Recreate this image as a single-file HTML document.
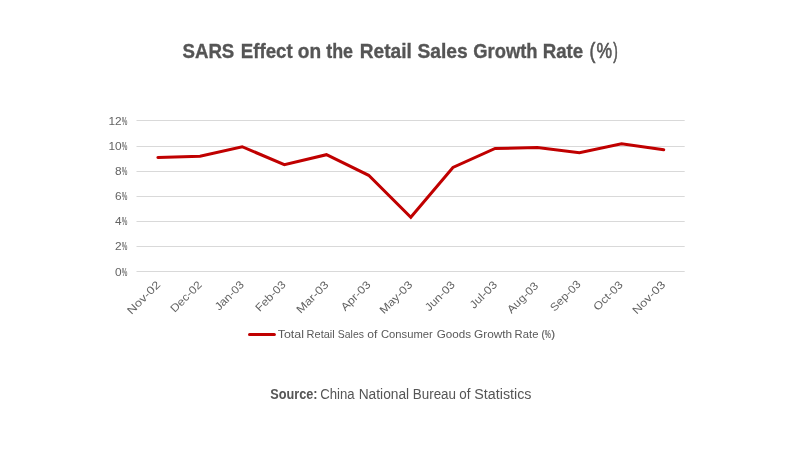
<!DOCTYPE html>
<html lang="en"><head><meta charset="utf-8"><title>SARS Effect on the Retail Sales Growth Rate (%)</title>
<style>
html,body{margin:0;padding:0;background:#fff;}
body{width:800px;height:455px;overflow:hidden;font-family:"Liberation Sans",sans-serif;}
svg{display:block;will-change:transform;}
text{font-family:"Liberation Sans",sans-serif;white-space:pre;}
</style></head><body>
<svg width="800" height="455" viewBox="0 0 800 455">
<rect width="800" height="455" fill="#fff"/>
<text y="57.9" font-size="21" fill="#555" stroke="#555" stroke-width="0.35"><tspan x="182.46" font-weight="bold" textLength="51.87" lengthAdjust="spacingAndGlyphs">SARS</tspan> <tspan x="240.75" font-weight="bold" textLength="51.88" lengthAdjust="spacingAndGlyphs">Effect</tspan> <tspan x="297.85" font-weight="bold" textLength="23.33" lengthAdjust="spacingAndGlyphs">on</tspan> <tspan x="326.18" font-weight="bold" textLength="26.83" lengthAdjust="spacingAndGlyphs">the</tspan> <tspan x="359.72" font-weight="bold" textLength="52.03" lengthAdjust="spacingAndGlyphs">Retail</tspan> <tspan x="417.44" font-weight="bold" textLength="50.35" lengthAdjust="spacingAndGlyphs">Sales</tspan> <tspan x="473.25" font-weight="bold" textLength="64.29" lengthAdjust="spacingAndGlyphs">Growth</tspan> <tspan x="542.75" font-weight="bold" textLength="40.49" lengthAdjust="spacingAndGlyphs">Rate</tspan></text>
<text y="57.8" font-size="21.5" fill="#555" stroke="#555" stroke-width="0.6"><tspan x="589.40" font-weight="normal" textLength="5.90" lengthAdjust="spacingAndGlyphs">(</tspan><tspan x="596.38" font-weight="normal" textLength="15.55" lengthAdjust="spacingAndGlyphs">%</tspan><tspan x="613.32" font-weight="normal" textLength="4.52" lengthAdjust="spacingAndGlyphs">)</tspan></text>
<g stroke="#d9d9d9" stroke-width="1">
<line x1="136.5" x2="684.7" y1="271.50" y2="271.50"/>
<line x1="136.5" x2="684.7" y1="246.50" y2="246.50"/>
<line x1="136.5" x2="684.7" y1="221.50" y2="221.50"/>
<line x1="136.5" x2="684.7" y1="196.50" y2="196.50"/>
<line x1="136.5" x2="684.7" y1="171.50" y2="171.50"/>
<line x1="136.5" x2="684.7" y1="146.50" y2="146.50"/>
<line x1="136.5" x2="684.7" y1="120.50" y2="120.50"/>
</g>
<g font-size="11" fill="#636363">
<text transform="translate(121.7,275.90) scale(1.08,1)" text-anchor="end">0</text><text transform="translate(121.7,275.90) scale(0.57,1)" stroke="#636363" stroke-width="0.15">%</text>
<text transform="translate(121.7,250.10) scale(1.08,1)" text-anchor="end">2</text><text transform="translate(121.7,250.10) scale(0.57,1)" stroke="#636363" stroke-width="0.15">%</text>
<text transform="translate(121.7,225.20) scale(1.08,1)" text-anchor="end">4</text><text transform="translate(121.7,225.20) scale(0.57,1)" stroke="#636363" stroke-width="0.15">%</text>
<text transform="translate(121.7,200.20) scale(1.08,1)" text-anchor="end">6</text><text transform="translate(121.7,200.20) scale(0.57,1)" stroke="#636363" stroke-width="0.15">%</text>
<text transform="translate(121.7,175.20) scale(1.08,1)" text-anchor="end">8</text><text transform="translate(121.7,175.20) scale(0.57,1)" stroke="#636363" stroke-width="0.15">%</text>
<text transform="translate(121.7,150.20) scale(1.08,1)" text-anchor="end">10</text><text transform="translate(121.7,150.20) scale(0.57,1)" stroke="#636363" stroke-width="0.15">%</text>
<text transform="translate(121.7,125.00) scale(1.08,1)" text-anchor="end">12</text><text transform="translate(121.7,125.00) scale(0.57,1)" stroke="#636363" stroke-width="0.15">%</text>
</g>
<g font-size="11" fill="#636363" text-anchor="end">
<text transform="translate(161.00,285.40) rotate(-45)" textLength="41.8" lengthAdjust="spacingAndGlyphs">Nov-02</text>
<text transform="translate(202.50,285.40) rotate(-45)" textLength="39.2" lengthAdjust="spacingAndGlyphs">Dec-02</text>
<text transform="translate(244.75,285.40) rotate(-45)" textLength="36.2" lengthAdjust="spacingAndGlyphs">Jan-03</text>
<text transform="translate(286.50,285.40) rotate(-45)" textLength="37.8" lengthAdjust="spacingAndGlyphs">Feb-03</text>
<text transform="translate(329.40,285.40) rotate(-45)" textLength="40.6" lengthAdjust="spacingAndGlyphs">Mar-03</text>
<text transform="translate(371.25,285.40) rotate(-45)" textLength="36.9" lengthAdjust="spacingAndGlyphs">Apr-03</text>
<text transform="translate(413.10,285.40) rotate(-45)" textLength="41.3" lengthAdjust="spacingAndGlyphs">May-03</text>
<text transform="translate(455.60,285.40) rotate(-45)" textLength="37.4" lengthAdjust="spacingAndGlyphs">Jun-03</text>
<text transform="translate(497.75,285.40) rotate(-45)" textLength="33.7" lengthAdjust="spacingAndGlyphs">Jul-03</text>
<text transform="translate(539.00,286.40) rotate(-45)" textLength="39.0" lengthAdjust="spacingAndGlyphs">Aug-03</text>
<text transform="translate(581.50,284.80) rotate(-45)" textLength="38.3" lengthAdjust="spacingAndGlyphs">Sep-03</text>
<text transform="translate(623.50,285.40) rotate(-45)" textLength="36.5" lengthAdjust="spacingAndGlyphs">Oct-03</text>
<text transform="translate(666.00,285.40) rotate(-45)" textLength="41.5" lengthAdjust="spacingAndGlyphs">Nov-03</text>
</g>
<polyline points="157.88,157.50 200.03,156.30 242.18,146.70 284.34,164.70 326.49,154.70 368.65,175.30 410.80,217.30 452.95,167.50 495.11,148.50 537.26,147.45 579.42,152.70 621.57,143.70 663.72,149.70" fill="none" stroke="#c00000" stroke-width="3" stroke-linecap="round" stroke-linejoin="miter"/>
<line x1="249.5" x2="274.4" y1="334.4" y2="334.4" stroke="#c00000" stroke-width="3" stroke-linecap="round"/>
<text y="337.7" font-size="10.5" fill="#595959"><tspan x="277.73" font-weight="normal" textLength="26.26" lengthAdjust="spacingAndGlyphs">Total</tspan> <tspan x="306.60" font-weight="normal" textLength="28.14" lengthAdjust="spacingAndGlyphs">Retail</tspan> <tspan x="337.83" font-weight="normal" textLength="26.05" lengthAdjust="spacingAndGlyphs">Sales</tspan> <tspan x="367.39" font-weight="normal" textLength="10.09" lengthAdjust="spacingAndGlyphs">of</tspan> <tspan x="380.93" font-weight="normal" textLength="51.86" lengthAdjust="spacingAndGlyphs">Consumer</tspan> <tspan x="436.81" font-weight="normal" textLength="34.31" lengthAdjust="spacingAndGlyphs">Goods</tspan> <tspan x="474.00" font-weight="normal" textLength="38.16" lengthAdjust="spacingAndGlyphs">Growth</tspan> <tspan x="514.63" font-weight="normal" textLength="23.77" lengthAdjust="spacingAndGlyphs">Rate</tspan></text>
<text y="338.0" font-size="11.5" fill="#595959" stroke="#595959" stroke-width="0.2"><tspan x="541.49" font-weight="normal" textLength="3.27" lengthAdjust="spacingAndGlyphs">(</tspan><tspan x="544.76" font-weight="normal" textLength="6.09" lengthAdjust="spacingAndGlyphs">%</tspan><tspan x="551.23" font-weight="normal" textLength="3.77" lengthAdjust="spacingAndGlyphs">)</tspan></text>
<text y="399" font-size="14" fill="#555"><tspan x="270.23" font-weight="bold" textLength="47.29" lengthAdjust="spacingAndGlyphs">Source:</tspan> <tspan x="320.23" font-weight="normal" textLength="34.42" lengthAdjust="spacingAndGlyphs">China</tspan> <tspan x="358.67" font-weight="normal" textLength="50.50" lengthAdjust="spacingAndGlyphs">National</tspan> <tspan x="412.75" font-weight="normal" textLength="43.29" lengthAdjust="spacingAndGlyphs">Bureau</tspan> <tspan x="459.29" font-weight="normal" textLength="11.19" lengthAdjust="spacingAndGlyphs">of</tspan> <tspan x="474.35" font-weight="normal" textLength="57.17" lengthAdjust="spacingAndGlyphs">Statistics</tspan></text>
</svg>
</body></html>
